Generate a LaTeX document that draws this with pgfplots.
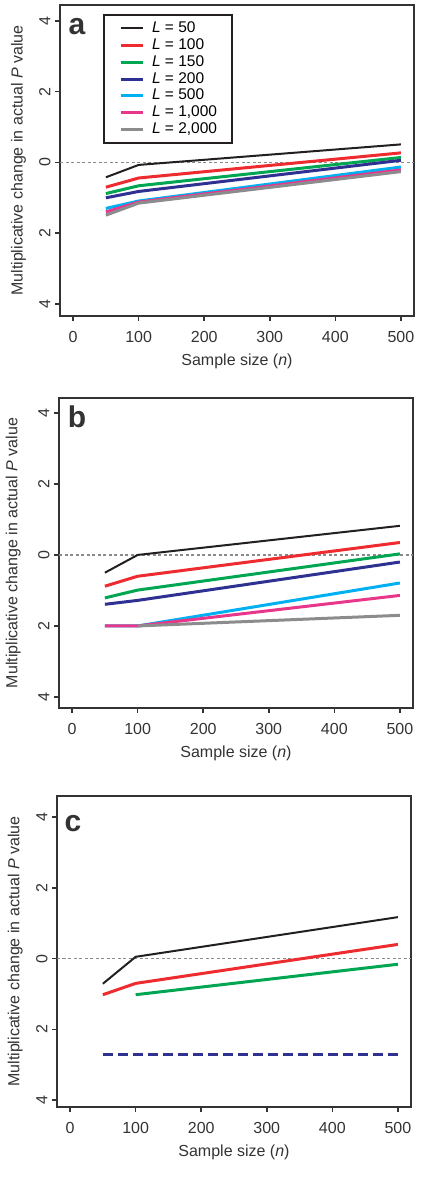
\documentclass[border=0pt]{standalone}
\usepackage{fontspec}
\setmainfont{Liberation Sans}
\usepackage{pgfplots}
\pgfplotsset{compat=1.18}
\definecolor{cblack}{HTML}{231F20}
\definecolor{cred}{HTML}{EE2B2F}
\definecolor{cgreen}{HTML}{00A651}
\definecolor{cnavy}{HTML}{2E3192}
\definecolor{ccyan}{HTML}{00B0F0}
\definecolor{cpink}{HTML}{E8378A}
\definecolor{cgray}{HTML}{8C8C8E}
\definecolor{cframe}{HTML}{333333}
\definecolor{czero}{HTML}{8A8A8A}
\pgfplotsset{
  panel/.style={
    width=354pt, height=311pt, scale only axis,
    anchor=south west,
    xmin=-20, xmax=520,
    xtick={0,100,200,300,400,500},
    ytick={-4,-2,0,2,4}, yticklabels={4,2,0,2,4},
    xtick pos=left, ytick pos=left,
    axis line style={cframe, line width=2pt},
    tick style={cframe, line width=1.6pt},
    tick align=outside, major tick length=5pt,
    xticklabel shift=7pt, yticklabel shift=1pt,
    /pgf/number format/assume math mode=true,
    tick label style={font=\fontsize{16}{18}\selectfont, text=cframe},
    yticklabel style={rotate=90, anchor=south},
    label style={font=\fontsize{16}{19}\selectfont, text=cframe},
    xlabel={Sample size (\textit{n})},
    ylabel={Multiplicative change in actual \textit{P} value},
    xlabel style={at={(axis description cs:0.5,-0.145)}, anchor=center},
  },
  zero/.style={czero, line width=1.2pt, dash pattern=on 3pt off 2.5pt, forget plot},
  thin/.style={line width=2pt, mark=none},
  thick/.style={line width=3pt, mark=none},
}
\begin{document}
\begin{tikzpicture}
\useasboundingbox (0,0) rectangle (440pt,1178pt);
% ---------------- panel a
\begin{axis}[panel, at={(60pt,862pt)}, ymin=-4.34, ymax=4.45,
  ylabel style={at={(axis description cs:-0.117,0.5)}, anchor=center},
  legend style={at={(rel axis cs:0.1215,0.97)}, anchor=north west,
    draw=cblack, line width=2pt, fill=white,
    font=\fontsize{15.5}{17}\selectfont,
    inner xsep=15pt, inner ysep=6pt, row sep=2.9pt, column sep=8pt,
    nodes={inner sep=0pt, text height=11pt, text depth=3pt}},
  legend cell align=left,
  legend image code/.code={\draw[#1] (0pt,0pt) -- (22pt,0pt);},
]
\addplot[zero] coordinates {(-20,0) (520,0)};
\addplot[thin, cblack] coordinates {(50,-0.42) (100,-0.07) (500,0.51)};
\addlegendentry{\textit{L} = 50}
\addplot[thick, cred] coordinates {(50,-0.70) (100,-0.44) (500,0.27)};
\addlegendentry{\textit{L} = 100}
\addplot[thick, cgreen] coordinates {(50,-0.88) (100,-0.66) (500,0.14)};
\addlegendentry{\textit{L} = 150}
\addplot[thick, cnavy] coordinates {(50,-1.00) (100,-0.82) (500,0.06)};
\addlegendentry{\textit{L} = 200}
\addplot[thick, ccyan] coordinates {(50,-1.30) (100,-1.09) (500,-0.13)};
\addlegendentry{\textit{L} = 500}
\addplot[thick, cpink] coordinates {(50,-1.40) (100,-1.12) (500,-0.21)};
\addlegendentry{\textit{L} = 1,000}
\addplot[thick, cgray] coordinates {(50,-1.49) (100,-1.15) (500,-0.26)};
\addlegendentry{\textit{L} = 2,000}
\node[font=\bfseries\fontsize{30}{30}\selectfont, text=cframe, anchor=center] at (rel axis cs:0.048,0.929) {a};
\end{axis}
% ---------------- panel b
\begin{axis}[panel, at={(59pt,470pt)}, height=310pt, ymin=-4.31, ymax=4.42,
  ylabel style={at={(axis description cs:-0.129,0.5)}, anchor=center}]
\addplot[zero] coordinates {(-20,0) (520,0)};
\addplot[thin, cblack] coordinates {(50,-0.50) (100,0.0) (500,0.82)};
\addplot[thick, cred] coordinates {(50,-0.88) (100,-0.60) (500,0.35)};
\addplot[thick, cgreen] coordinates {(50,-1.21) (100,-0.99) (500,0.03)};
\addplot[thick, cnavy] coordinates {(50,-1.39) (100,-1.28) (500,-0.20)};
\addplot[thick, ccyan] coordinates {(50,-2.0) (100,-2.0) (500,-0.79)};
\addplot[thick, cpink] coordinates {(50,-2.0) (100,-2.0) (500,-1.14)};
\addplot[thick, cgray] coordinates {(100,-2.0) (500,-1.70)};
\node[font=\bfseries\fontsize{30}{30}\selectfont, text=cframe, anchor=center] at (rel axis cs:0.051,0.941) {b};
\end{axis}
% ---------------- panel c
\begin{axis}[panel, at={(57pt,71pt)}, ymin=-4.19, ymax=4.59,
  ylabel style={at={(axis description cs:-0.118,0.5)}, anchor=center}]
\addplot[zero] coordinates {(-20,0) (520,0)};
\addplot[thin, cblack] coordinates {(50,-0.71) (100,0.05) (500,1.17)};
\addplot[thick, cred] coordinates {(50,-1.02) (100,-0.70) (500,0.40)};
\addplot[thick, cgreen] coordinates {(100,-1.02) (500,-0.16)};
\addplot[thick, cnavy, dash pattern=on 10pt off 5pt] coordinates {(50,-2.71) (500,-2.71)};
\node[font=\bfseries\fontsize{30}{30}\selectfont, text=cframe, anchor=center] at (rel axis cs:0.045,0.912) {c};
\end{axis}
\end{tikzpicture}
\end{document}
